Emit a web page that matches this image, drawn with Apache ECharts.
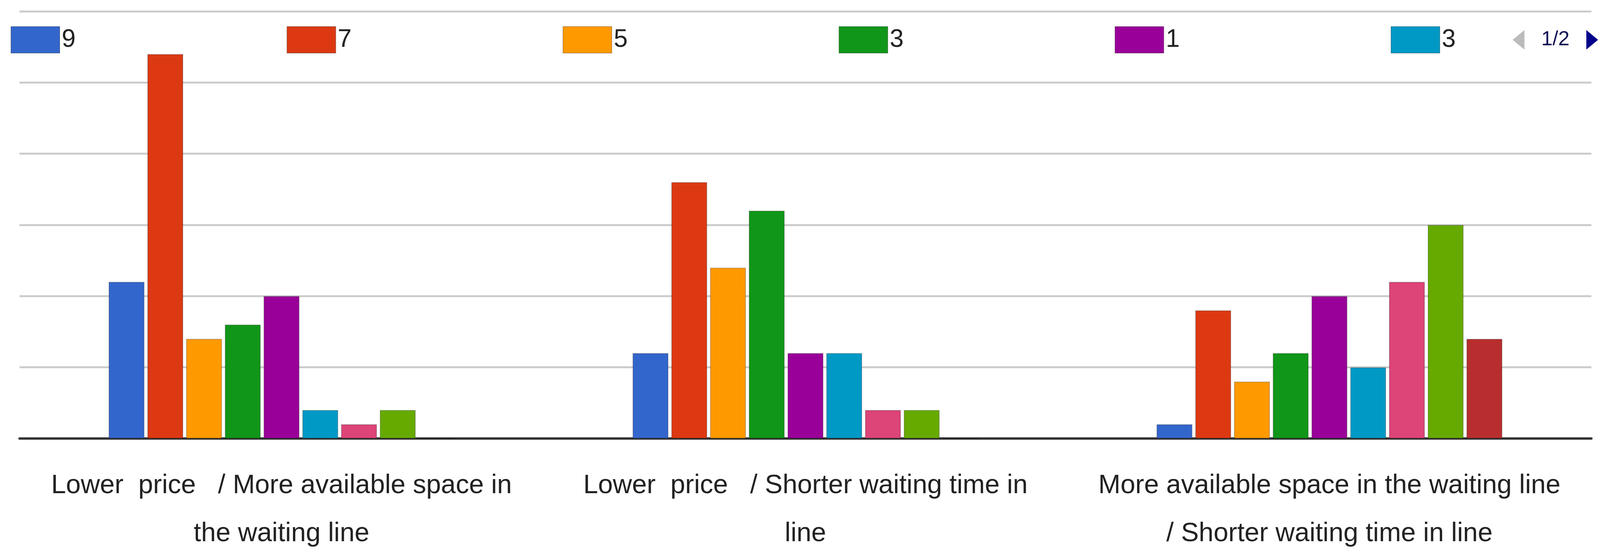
<!DOCTYPE html>
<html lang="en">
<head>
<meta charset="utf-8">
<title>Chart</title>
<script src="https://cdn.jsdelivr.net/npm/echarts@6/dist/echarts.min.js"></script>
<style>
  html, body { margin: 0; padding: 0; background: #fff; overflow: hidden; }
  #main { width: 100vw; height: 100vh; }
</style>
</head>
<body>
<div id="main"></div>
<script type="text/javascript">
    // categories (x axis)
    let categories = [
        'Lower  price   / More available space in\nthe waiting line',
        'Lower  price   / Shorter waiting time in\nline',
        'More available space in the waiting line\n/ Shorter waiting time in line'
    ];
    // series names (trailing spaces keep duplicate names unique)
    let seriesNames = ['9', '7', '5', '3', '1', '3 ', '1 ', '2', '0'];
    let seriesColors = ['#3366cc', '#dc3912', '#ff9900', '#109618', '#990099', '#0099c6', '#dd4477', '#66aa00', '#b82e2e'];
    // values per series, one per category
    let s9  = [11, 6, 1];
    let s7  = [27, 18, 9];
    let s5  = [7, 12, 4];
    let s3  = [8, 16, 6];
    let s1  = [10, 6, 10];
    let s3b = [2, 6, 5];
    let s1b = [1, 2, 11];
    let s2  = [2, 2, 15];
    let s0  = [0, 0, 7];
    let seriesData = [s9, s7, s5, s3, s1, s3b, s1b, s2, s0];

    let chart = echarts.init(document.getElementById('main'));

    let series = seriesNames.map((name, i) => ({
        name: name,
        type: 'bar',
        data: seriesData[i],
        barGap: '8%',
        barCategoryGap: '34%',
        itemStyle: { color: seriesColors[i], borderColor: 'rgba(0,0,0,0.25)', borderWidth: 2 }
    }));

    let option = {
        animation: false,
        color: seriesColors,
        legend: {
            type: 'scroll',
            top: 62,
            left: 22,
            right: 15,
            icon: 'rect',
            itemWidth: 125,
            itemHeight: 68,
            itemGap: 540,
            formatter: (name) => name.trim(),
            textStyle: { fontSize: 64, color: '#222', fontFamily: 'Liberation Sans' },
            pageIconColor: '#00008b',
            pageIconInactiveColor: '#bbb',
            pageIconSize: 50,
            pageTextStyle: { fontSize: 52, color: '#111155', fontFamily: 'Liberation Sans' },
            pageButtonGap: 30,
            pageButtonItemGap: 20
        },
        grid: { left: 50, right: 22, top: 29, bottom: 296 },
        xAxis: {
            type: 'category',
            data: categories,
            axisLine: { lineStyle: { color: '#333', width: 6 } },
            axisTick: { show: false },
            axisLabel: {
                interval: 0,
                margin: 60,
                fontSize: 68,
                lineHeight: 123,
                color: '#222',
                fontFamily: 'Liberation Sans'
            }
        },
        yAxis: {
            type: 'value',
            min: 0,
            max: 30,
            interval: 5,
            axisLabel: { show: false },
            axisLine: { show: false },
            splitLine: { lineStyle: { color: '#cccccc', width: 5 } }
        },
        series: series
    };

    chart.setOption(option);
</script>
</body>
</html>
